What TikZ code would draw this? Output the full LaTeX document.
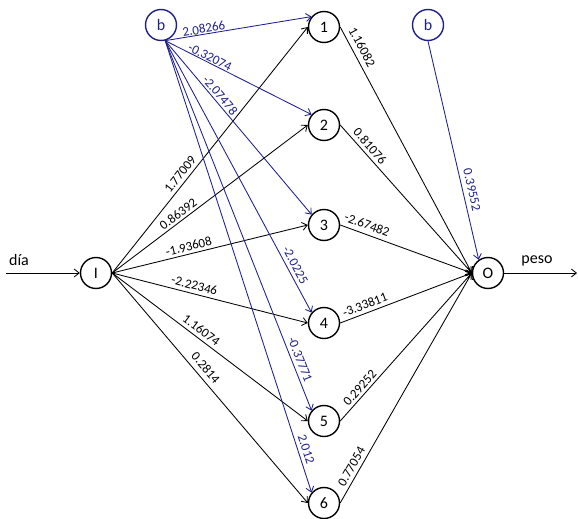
\documentclass[tikz,border=0pt]{standalone}
\usepackage{fontspec}
\setmainfont{Carlito}
\usetikzlibrary{arrows.meta}
\definecolor{nblue}{RGB}{30,30,140}
\begin{document}
\begin{tikzpicture}[x=1pt,y=-1pt,
  neuron/.style={circle,draw,line width=1.4pt,minimum size=31pt,inner sep=0pt,font=\fontsize{16}{16}\selectfont},
  bias/.style={neuron,draw=nblue,text=nblue},
  wline/.style={line width=0.85pt,-{Straight Barb[length=5pt,width=8pt]}},
  bline/.style={wline,draw=nblue},
  wlab/.style={sloped,above,inner sep=3.5pt,font=\fontsize{13}{13}\selectfont},
  blab/.style={wlab,text=nblue},
  iolab/.style={font=\fontsize{16}{16}\selectfont}]
\useasboundingbox (0,0) rectangle (578,519);
\node[neuron] (I) at (96,273) {I};
\node[neuron] (O) at (488,273) {O};
\node[bias] (b1) at (161,25) {b};
\node[bias] (b2) at (428,25) {b};
\node[neuron] (n1) at (324,27) {1};
\node[neuron] (n2) at (324,125) {2};
\node[neuron] (n3) at (324,225) {3};
\node[neuron] (n4) at (324,323) {4};
\node[neuron] (n5) at (324,421) {5};
\node[neuron] (n6) at (324,503) {6};
\coordinate (in) at (6,273);
\coordinate (out) at (577,273);
\coordinate (bs) at (b1.-75);
% input and output
\draw[wline] (in) -- (I.west);
\node[iolab] (dia) at (19,260) {día};
\draw[wline] (O.east) -- (out);
\node[iolab] (peso) at (537,261) {peso};
% I -> hidden
\draw[wline] (I.east) -- node[wlab,pos=0.38] {1.77009} (n1.west);
\draw[wline] (I.east) -- node[wlab,pos=0.36,inner sep=2.5pt] {0.86392} (n2.west);
\draw[wline] (I.east) -- node[wlab,pos=0.40,inner sep=2.5pt] {-1.93608} (n3.west);
\draw[wline] (I.east) -- node[wlab,pos=0.41] {-2.22346} (n4.west);
\draw[wline] (I.east) -- node[wlab,pos=0.43] {1.16074} (n5.west);
\draw[wline] (I.east) -- node[wlab,pos=0.44,inner sep=5pt] {0.2814} (n6.west);
% bias -> hidden
\draw[bline] (bs) -- node[blab,pos=0.27,inner sep=0.5pt] {2.08266} (n1.140);
\draw[bline] (bs) -- node[blab,pos=0.29,inner sep=0.5pt] {-0.32074} (n2.140);
\draw[bline] (bs) -- node[blab,pos=0.34,inner sep=2pt] {-2.07478} (n3.140);
\draw[bline] (bs) -- node[blab,pos=0.84] {-2.0225} (n4.140);
\draw[bline] (bs) -- node[blab,pos=0.87] {-0.37771} (n5.140);
\draw[bline] (bs) -- node[blab,pos=0.91] {2.012} (n6.140);
% hidden -> O
\draw[wline] (n1.east) -- node[wlab,pos=0.10,inner sep=5pt] {1.16082} (O.west);
\draw[wline] (n2.east) -- node[wlab,pos=0.18] {0.81076} (O.west);
\draw[wline] (n3.east) -- node[wlab,pos=0.18,inner sep=4.5pt] {-2.67482} (O.west);
\draw[wline] (n4.east) -- node[wlab,pos=0.21] {-3.33811} (O.west);
\draw[wline] (n5.east) -- node[wlab,pos=0.19,inner sep=2.5pt] {0.29252} (O.west);
\draw[wline] (n6.east) -- node[wlab,pos=0.14] {0.77054} (O.west);
% bias -> O
\draw[bline] (b2.south) -- node[blab,pos=0.69,inner sep=4.5pt] {0.39552} (O.125);
\end{tikzpicture}
\end{document}
